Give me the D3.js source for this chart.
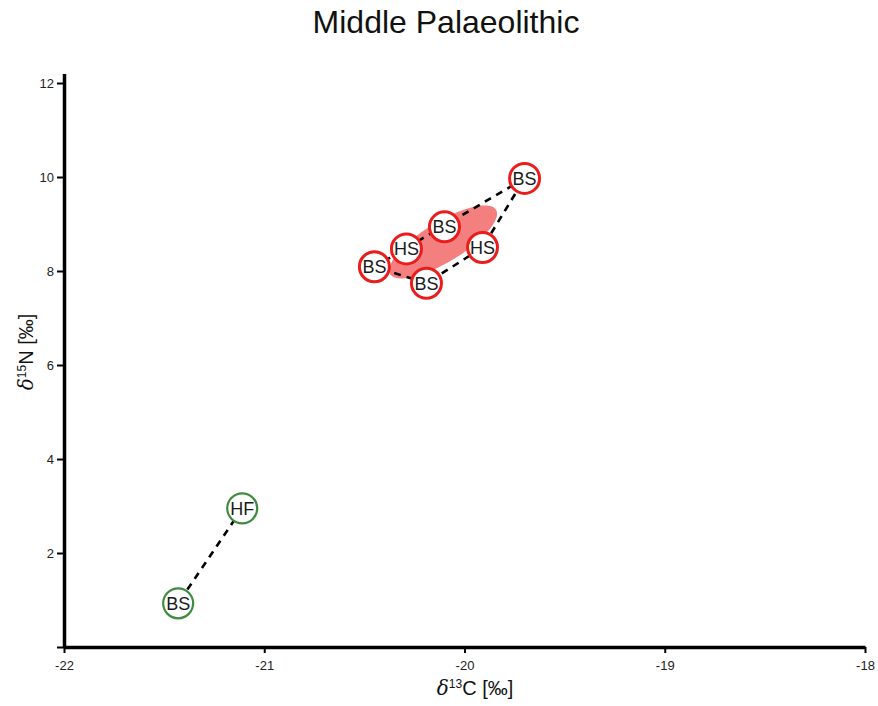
<!DOCTYPE html>
<html>
<head>
<meta charset="utf-8">
<script src="https://cdn.jsdelivr.net/npm/d3@7"></script>
<style>
  html, body { margin: 0; padding: 0; background: #fff; }
  svg { display: block; font-family: "Liberation Sans", Arial, sans-serif; }
</style>
</head>
<body>
<svg id="chart" width="878" height="706"></svg>
<script>
// Isotope values (δ13C, δ15N in ‰) per group
const redLabels = ["BS", "BS", "HS", "BS", "HS", "BS"];
const redC = [-19.70, -20.10, -20.29, -20.45, -19.91, -20.19];
const redN = [9.97, 8.94, 8.47, 8.09, 8.50, 7.74];

const greenLabels = ["HF", "BS"];
const greenC = [-21.11, -21.43];
const greenN = [2.95, 0.93];

const xTicks = [-22, -21, -20, -19, -18];
const yTicks = [0, 2, 4, 6, 8, 10, 12];

const svg = d3.select("#chart");

const x = d3.scaleLinear().domain([-22, -18]).range([64, 865]);
const y = d3.scaleLinear().domain([0, 12.2]).range([647, 73.6]);

// Title
svg.append("text")
  .attr("x", 446).attr("y", 33)
  .attr("text-anchor", "middle")
  .attr("font-size", 32).attr("fill", "#111")
  .text("Middle Palaeolithic");

// Axes
const xAxis = d3.axisBottom(x).tickValues(xTicks).tickSize(6).tickSizeOuter(0)
  .tickFormat(d => String(d));
const yAxis = d3.axisLeft(y).tickValues(yTicks).tickSize(7).tickSizeOuter(0)
  .tickFormat(d => d === 0 ? "" : String(d));

const gx = svg.append("g").attr("transform", `translate(0,${y(0)})`).call(xAxis);
const gy = svg.append("g").attr("transform", `translate(${x(-22)},0)`).call(yAxis);

[gx, gy].forEach(g => {
  g.select(".domain").attr("stroke", "#000").attr("stroke-width", 3.5);
  g.selectAll(".tick line").attr("stroke", "#000").attr("stroke-width", 2);
  g.selectAll(".tick text").attr("font-size", 13).attr("fill", "#222")
    .attr("font-family", "'Liberation Sans', Arial, sans-serif");
});
gx.selectAll(".tick text").attr("dy", "1.05em");

// Axis titles
const xl = svg.append("text")
  .attr("x", 475).attr("y", 695)
  .attr("text-anchor", "middle").attr("font-size", 20).attr("fill", "#111");
xl.append("tspan").attr("font-style", "italic").attr("font-family", "'DejaVu Serif', serif").text("δ");
xl.append("tspan").attr("font-size", 12).attr("dy", -7).text("13");
xl.append("tspan").attr("dy", 7).text("C [‰]");

const yl = svg.append("text")
  .attr("transform", "translate(33,352) rotate(-90)")
  .attr("text-anchor", "middle").attr("font-size", 20).attr("fill", "#111");
yl.append("tspan").attr("font-style", "italic").attr("font-family", "'DejaVu Serif', serif").text("δ");
yl.append("tspan").attr("font-size", 12).attr("dy", -7).text("15");
yl.append("tspan").attr("dy", 7).text("N [‰]");

// Standard ellipse from the group's covariance
function ellipsePath(cs, ns) {
  const n = cs.length;
  const mx = d3.mean(cs), my = d3.mean(ns);
  let sxx = 0, syy = 0, sxy = 0;
  for (let i = 0; i < n; i++) {
    const dx = cs[i] - mx, dy = ns[i] - my;
    sxx += dx * dx; syy += dy * dy; sxy += dx * dy;
  }
  sxx /= (n - 1); syy /= (n - 1); sxy /= (n - 1);
  const tr = sxx + syy, det = sxx * syy - sxy * sxy;
  const disc = Math.sqrt(tr * tr / 4 - det);
  const l1 = tr / 2 + disc, l2 = tr / 2 - disc;
  let vx = sxy, vy = l1 - sxx;
  const len = Math.hypot(vx, vy); vx /= len; vy /= len;
  const a = Math.sqrt(l1), b = Math.sqrt(l2);
  const pts = d3.range(0, 361, 3).map(deg => {
    const t = deg * Math.PI / 180;
    const px = mx + a * Math.cos(t) * vx - b * Math.sin(t) * vy;
    const py = my + a * Math.cos(t) * vy + b * Math.sin(t) * vx;
    return [x(px), y(py)];
  });
  return d3.line()(pts) + "Z";
}

svg.append("path")
  .attr("d", ellipsePath(redC, redN))
  .attr("fill", "#f47f7f").attr("stroke", "none");

// Group outlines (convex hull, dashed)
function hullPath(cs, ns) {
  const pts = cs.map((c, i) => [x(c), y(ns[i])]);
  if (pts.length < 3) return d3.line()(pts);
  return d3.line()(d3.polygonHull(pts)) + "Z";
}
[[redC, redN], [greenC, greenN]].forEach(([cs, ns]) => {
  svg.append("path")
    .attr("d", hullPath(cs, ns))
    .attr("fill", "none").attr("stroke", "#000")
    .attr("stroke-width", 2.6).attr("stroke-dasharray", "7,6");
});

// Labelled point markers
function drawPoints(labels, cs, ns, color, sw) {
  const g = svg.append("g").selectAll("g").data(labels).join("g")
    .attr("transform", (d, i) => `translate(${x(cs[i])},${y(ns[i])})`);
  g.append("circle").attr("r", 15)
    .attr("fill", "#fff").attr("stroke", color).attr("stroke-width", sw);
  g.append("text").attr("text-anchor", "middle").attr("dy", "0.36em")
    .attr("font-size", 18).attr("fill", "#1a1a1a").text(d => d);
}
drawPoints(greenLabels, greenC, greenN, "#3f8a3f", 2.2);
drawPoints(redLabels, redC, redN, "#ea1c1c", 3);
</script>
</body>
</html>
